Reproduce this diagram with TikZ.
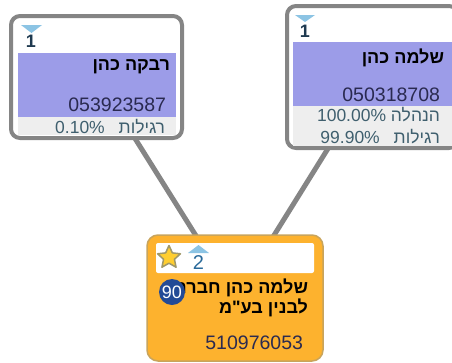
\documentclass[tikz,border=0pt]{standalone}
\usepackage{fontspec}
\setmainfont{Liberation Sans}
\newfontfamily\hebfont[Script=Hebrew]{Liberation Sans}
\TeXXeTstate=1
\usetikzlibrary{shapes.geometric,backgrounds}
\definecolor{grayborder}{HTML}{858585}
\definecolor{purpleband}{HTML}{9C9CE8}
\definecolor{lightband}{HTML}{EEEEEE}
\definecolor{orangebox}{HTML}{FDB22E}
\definecolor{orangeedge}{HTML}{C8A45C}
\definecolor{idtext}{HTML}{2A2A50}
\definecolor{pcttext}{HTML}{3F5F6E}
\definecolor{markerfill}{HTML}{8CC4E4}
\definecolor{levelone}{HTML}{1F3A50}
\definecolor{leveltwo}{HTML}{2A6A9A}
\definecolor{badgeblue}{HTML}{234A96}
\definecolor{starfill}{HTML}{FFCE30}
\definecolor{staredge}{HTML}{A09868}
\tikzset{
  every node/.style={inner sep=0pt,outer sep=0pt},
  holder/.style={draw=grayborder,line width=4pt,rounded corners=9pt,fill=white,minimum width=171pt,anchor=center},
  company/.style={draw=orangeedge,line width=1.5pt,rounded corners=11pt,fill=orangebox,minimum width=176pt,minimum height=126pt,anchor=center},
  link/.style={draw=grayborder,line width=5pt},
  nametext/.style={anchor=east,text=black,font=\hebfont\bfseries\fontsize{18}{20}\selectfont},
  idnum/.style={anchor=east,text=idtext,font=\fontsize{19.5}{20}\selectfont},
  pct/.style={anchor=east,text=pcttext,font=\hebfont\fontsize{17.5}{20}\selectfont},
  level/.style={anchor=center,font=\bfseries\fontsize{18}{18}\selectfont},
}
\begin{document}
\begin{tikzpicture}[x=1pt,y=-1pt]
\useasboundingbox (0,0) rectangle (452,362);
\clip (0,0) rectangle (452,362);
% boxes
\node[holder,minimum height=122pt] (boxa) at (96.5,77) {};
\node[holder,minimum height=142pt] (boxb) at (372.5,77) {};
\node[company] (boxc) at (235,298) {};
\begin{pgfonlayer}{background}
\draw[link] (boxa.center) -- (boxc.center);
\draw[link] (boxb.center) -- (boxc.center);
\end{pgfonlayer}
% bands box a
\fill[purpleband] (18,53) rectangle (176,117);
\fill[lightband] (18,117) rectangle (176,135);
% bands box b
\fill[purpleband] (293,42) rectangle (452,106);
\fill[lightband] (293,106) rectangle (452,146);
% band box c
\fill[white,rounded corners=2pt] (156,243) rectangle (314,273);
% markers
\fill[markerfill] (21,25) -- (42,25) -- (31.5,33) -- cycle;
\node[level,text=levelone] (la) at (31,41.5) {1};
\fill[markerfill] (295,15) -- (315,15) -- (305,22) -- cycle;
\node[level,text=levelone] (lb) at (305,31) {1};
\fill[markerfill] (188,253) -- (209,253) -- (198.5,245) -- cycle;
\node[level,text=leveltwo,font=\fontsize{20}{20}\selectfont] (lc) at (198.5,263) {2};
\node[star,star points=5,star point ratio=2.1,draw=staredge,line width=1.5pt,line join=round,fill=starfill,minimum size=24pt] (st) at (169,257.5) {};
% texts box a
\node[nametext] (na) at (170,67) {\beginR רבקה כהן\endR};
\node[idnum] (ia) at (166,105) {053923587};
\node[pct] (pa) at (165,127) {\beginR רגילות\hspace{9pt} \beginL 0.10\%\endL\endR};
% texts box b
\node[nametext] (nb) at (444,58) {\beginR שלמה כהן\endR};
\node[idnum] (ib) at (440,95) {050318708};
\node[pct] (pb) at (440,115) {\beginR הנהלה \beginL 100.00\%\endL\endR};
\node[pct] (pc) at (440,137) {\beginR רגילות\hspace{9pt} \beginL 99.90\%\endL\endR};
% texts box c
\node[nametext] (nc) at (308,288) {\beginR שלמה כהן חברה\endR};
\node[nametext] (nd) at (308,308) {\beginR לבנין בע"מ\endR};
\node[idnum] (ic) at (303,343) {510976053};
\node[circle,fill=badgeblue,minimum size=26pt,text=white,font=\fontsize{18}{18}\selectfont] (bd) at (172,292) {90};
\end{tikzpicture}
\end{document}
